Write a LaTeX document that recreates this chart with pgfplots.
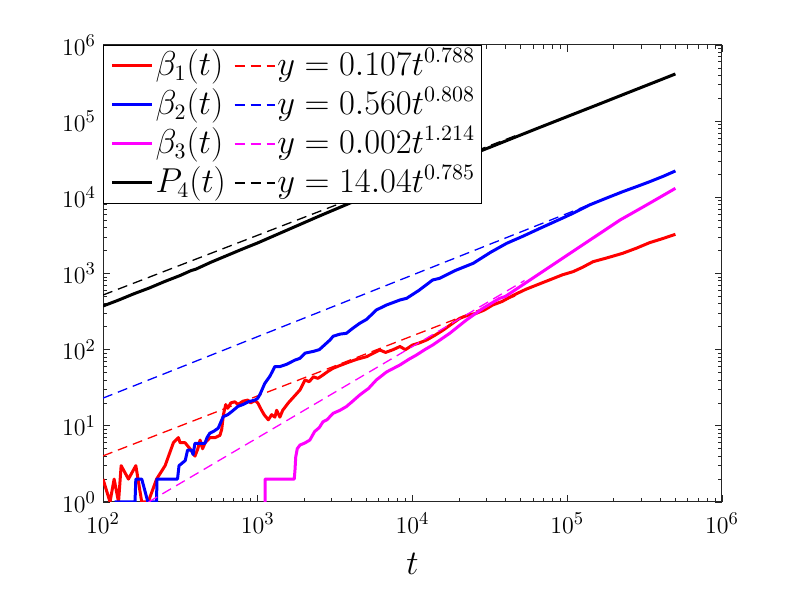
\documentclass[border=0pt]{standalone}
\usepackage{pgfplots}
\pgfplotsset{compat=1.18}
\definecolor{mymag}{rgb}{1,0,1}
\begin{document}
\begin{tikzpicture}
\path[use as bounding box] (0,0) rectangle (400pt,300pt);
\begin{axis}[
  at={(51.5pt,49pt)}, anchor=south west,
  scale only axis, width=309.5pt, height=228.5pt,
  xmode=log, ymode=log,
  xmin=100, xmax=1e6, ymin=1, ymax=1e6,
  tick align=inside,
  major tick length=3.5pt, minor tick length=2pt,
  tick style={black!85, line width=0.4pt},
  axis line style={black!85, line width=0.5pt},
  tick label style={font=\fontsize{13}{15}\selectfont},
  xticklabel style={yshift=-2pt},
  xlabel={$t$},
  xlabel style={font=\fontsize{19}{22}\selectfont, yshift=-3pt},
  legend columns=2,
  legend cell align=left,
  legend style={at={(0,1)}, anchor=north west, draw=black, line width=0.5pt, fill=white,
    font=\fontsize{16}{19}\selectfont, inner xsep=3.5pt, inner ysep=0.5pt,
    nodes={inner xsep=0pt, inner ysep=1.5pt, text height=13pt, text depth=3.5pt},
    /tikz/every odd column/.append style={column sep=1pt},
    /tikz/every even column/.append style={column sep=4pt}},
  legend image code/.code={\draw[#1] (0pt,0pt) -- (20pt,0pt);},
  solid/.style={line width=1.5pt, line join=round},
  fit/.style={line width=0.65pt, dash pattern=on 5pt off 3pt},
]
% beta_1
\addplot[solid, red] coordinates {
(100,2) (111,1) (118,2) (126,1) (131,3) (146,2) (163,3) (178,1) (196,1) (222,2) (252,3) (285,6) (307,7) (315,6) (339,6) (365,5) (393,4) (410,5) (424,6.5) (440,5) (457,6) (491,7) (530,7) (570,7.5) (585,9) (600,14) (621,19) (640,17) (670,20) (711,20.7) (745,19) (800,21) (862,21.8) (900,20) (960,21.5) (1000,20) (1059,16) (1100,14) (1170,12) (1230,14) (1290,13) (1325,16) (1390,13) (1450,16) (1575,20) (1740,25) (1875,29.6) (2020,40) (2150,38) (2290,44) (2450,42) (2640,46.5) (2850,52) (3070,57) (3400,62) (3945,69.5) (4400,75) (5055,81) (5600,90) (6150,99) (6700,92) (7500,100) (8300,110) (9000,100) (10000,115) (11000,122) (12340,134) (14000,155) (15800,181) (17500,210) (20200,258) (23000,285) (25800,300) (29000,330) (33000,386) (38000,430) (45000,520) (54000,620) (65000,720) (80000,850) (93000,960) (109000,1057) (125000,1200) (147000,1430) (180000,1600) (228000,1840) (280000,2150) (340000,2536) (420000,2900) (500000,3270)
};
\addlegendentry{$\beta_1(t)$}
\addplot[fit, red] coordinates {(100,4.03) (50000,540)};
\addlegendentry{$y=0.107t^{0.788}$}
% beta_2
\addplot[solid, blue] coordinates {
(119,1) (161,1) (163,2) (178,2) (195,1) (222,1) (223,2) (303,2) (310,3) (340,3.5) (352,4.8) (374,4.8) (382,4.2) (393,5.9) (456,5.9) (470,7) (490,8) (520,8.5) (555,9.3) (598,13.2) (640,14) (677,15.3) (745,18) (800,19) (870,20.7) (960,21.8) (1000,23) (1035,26) (1110,36) (1200,45) (1290,60) (1390,60) (1530,64) (1740,73) (1875,77) (2020,90) (2290,95) (2500,100) (2930,134) (3070,150) (3400,160) (3740,164) (4100,190) (4560,222) (5055,250) (5840,332) (6800,386) (8300,449) (9160,472) (11000,600) (13500,822) (15000,865) (19000,1100) (24700,1362) (32000,1900) (40600,2490) (52000,3100) (66700,3920) (85000,4900) (109000,6170) (139000,7930) (180000,9800) (228000,11850) (280000,13800) (340000,16000) (420000,19000) (500000,22200)
};
\addlegendentry{$\beta_2(t)$}
\addplot[fit, blue] coordinates {(100,23.1) (155000,8750)};
\addlegendentry{$y=0.560t^{0.808}$}
% beta_3
\addplot[solid, mymag] coordinates {
(1114,1) (1114,2) (1722,2) (1740,2.6) (1760,3.9) (1800,5) (1875,5.6) (2000,5.9) (2170,6.5) (2330,8.4) (2500,9.5) (2640,11.3) (2800,12) (3070,14.6) (3400,16) (3740,17.9) (4100,21) (4560,25.4) (5200,31) (5840,40) (6800,51) (8300,63) (9500,75) (10600,85) (12000,100) (13500,115) (17400,164) (22300,245) (28500,349) (36400,470) (39810,500) (63100,933) (100000,1742) (158500,3243) (219300,5035) (316200,7670) (500000,13120)
};
\addlegendentry{$\beta_3(t)$}
\addplot[fit, mymag] coordinates {(197,1) (53000,809)};
\addlegendentry{$y=0.002t^{1.214}$}
% P_4
\addplot[solid, black] coordinates {
(100,374) (125.9,447) (158.5,542) (199.5,646) (251.2,787) (316.2,944) (370,1090) (398.1,1140) (501.2,1413) (631,1718) (794.3,2089) (1000,2523) (1585,3793) (2512,5702) (3981,8472) (6310,12300) (10000,17860) (15850,26000) (25120,37670) (39810,54700) (63100,79430) (100000,114800) (158500,165600) (251200,239900) (398100,346700) (500000,416900)
};
\addlegendentry{$P_4(t)$}
\addplot[fit, black] coordinates {(100,521.6) (50000,68500)};
\addlegendentry{$y=14.04t^{0.785}$}
\end{axis}
\end{tikzpicture}
\end{document}
